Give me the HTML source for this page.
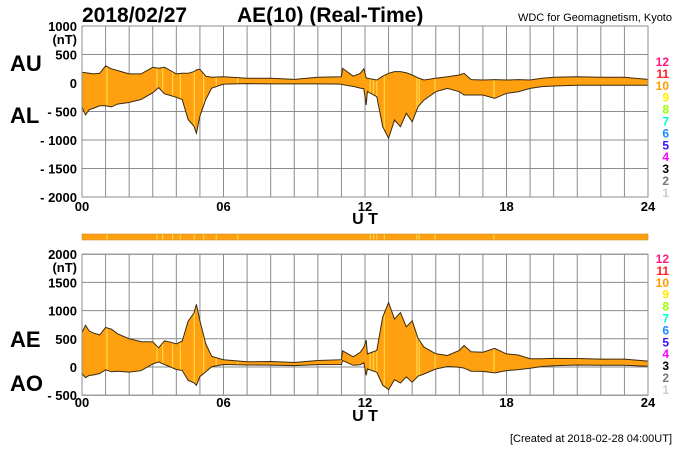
<!DOCTYPE html>
<html><head><meta charset="utf-8"><style>
html,body{margin:0;padding:0;background:#fff}
svg{display:block;font-family:"Liberation Sans",sans-serif;font-weight:bold}
</style></head><body>
<svg id="c" width="700" height="450" viewBox="0 0 700 450">
<text x="82" y="22" font-size="21">2018/02/27</text>
<text x="237" y="22" font-size="21">AE(10) (Real-Time)</text>
<text x="672" y="21" font-size="11" font-weight="normal" text-anchor="end">WDC for Geomagnetism, Kyoto</text>
<text x="10" y="71" font-size="22">AU</text>
<text x="10" y="123" font-size="22">AL</text>
<text x="10" y="347" font-size="22">AE</text>
<text x="10" y="391" font-size="22">AO</text>
<text x="672" y="442" font-size="11" font-weight="normal" text-anchor="end">[Created at 2018-02-28 04:00UT]</text>
<g id="top"></g>
<g id="bot"></g>
<g id="bar"></g>
<g id="leg"></g>
</svg>
<script>
const hours = [0,0.15,0.3,0.5,0.75,1,1.25,1.5,2,2.5,3,3.25,3.5,3.75,4,4.25,4.5,4.75,4.85,5,5.25,5.5,6,7,8,9,10,11,11.05,11.5,11.8,11.95,12.05,12.1,12.5,12.75,13,13.25,13.5,13.75,14,14.25,14.5,15,15.5,16,16.2,16.5,17,17.5,18,18.5,19,19.5,20,21,22,23,24];
const au = [190,180,170,160,170,300,250,220,160,160,275,260,275,220,160,170,170,200,230,240,120,100,110,82,82,64,100,110,257,120,170,250,90,82,53,120,170,200,200,180,140,90,53,82,110,140,170,60,53,60,53,60,53,82,100,111,100,100,64];
const al = [-420,-560,-470,-440,-400,-400,-420,-370,-340,-290,-170,-80,-190,-220,-250,-290,-640,-760,-880,-580,-290,-90,-20,-10,-15,-15,-15,-20,-30,-60,-90,-100,-386,-150,-240,-766,-970,-650,-766,-532,-680,-415,-300,-152,-94,-152,-210,-210,-210,-270,-180,-152,-94,-64,-53,-40,-40,-40,-40];
const stripeHours = [1.06,3.18,3.42,3.84,4.17,4.76,5.16,5.69,6.6,12.22,12.36,12.5,12.82,14.2,14.3,14.97,17.47];
const topTicks = [1000,500,0,-500,-1000,-1500,-2000];
const botTicks = [2000,1500,1000,500,0,-500];
const xTicks = ["00","06","12","18","24"];
const legendLabels = ["12","11","10","9","8","7","6","5","4","3","2","1"];
const legendColors = ["#ff1a80","#ff2020","#ff9900","#ffee00","#99ff00","#00ffcc","#1a8cff","#3311ff","#ff00ff","#000000","#777777","#cccccc"];

const NS="http://www.w3.org/2000/svg";
const X0=82,X1=648;
const xs=h=>X0+(X1-X0)*h/24;
const yTop=v=>83-v*28.5/500;
const yBot=v=>367-v*28.2/500;
function mk(tag,attrs,parent){const e=document.createElementNS(NS,tag);for(const k in attrs)e.setAttribute(k,attrs[k]);parent.appendChild(e);return e;}
function interp(arr,h){for(let i=1;i<hours.length;i++){if(h<=hours[i]){const t=(h-hours[i-1])/(hours[i]-hours[i-1]);return arr[i-1]+(arr[i]-arr[i-1])*t;}}return arr[arr.length-1];}

function panel(g,ys,vmax,vmin,ticks,upper,lower,labY,utY){
  for(let h=0;h<=24;h++){const l=mk('line',{x1:xs(h),x2:xs(h),y1:ys(vmax),y2:ys(vmin),stroke:'#8c8c8c','stroke-width':1},g);
    
    }
  ticks.forEach((t,i)=>{const l=mk('line',{x1:X0,x2:X1,y1:ys(t),y2:ys(t),stroke:'#8c8c8c','stroke-width':1},g);
    
    
    const s=(t<0?'- '+(-t):String(t));
    const tx=mk('text',{x:77,y:ys(t)+5,'font-size':13,'text-anchor':'end'},g);tx.textContent=s;
    
    
    if(i===0){const u=mk('text',{x:77,y:ys(t)+18,'font-size':13,'text-anchor':'end'},g);u.textContent='(nT)';
      
      }
  });
  let d='M'+hours.map((h,i)=>xs(h).toFixed(1)+','+ys(upper[i]).toFixed(1)).join('L');
  for(let i=hours.length-1;i>=0;i--)d+='L'+xs(hours[i]).toFixed(1)+','+ys(lower[i]).toFixed(1);
  const a=mk('path',{d:d+'Z',fill:'#ffa010',stroke:'none'},g);
  
  
  stripeHours.forEach(h=>{const s=mk('line',{x1:xs(h),x2:xs(h),y1:ys(interp(upper,h)),y2:ys(interp(lower,h)),stroke:'#ffd84a','stroke-width':1.2},g);
    
    });
  [upper,lower].forEach((arr,k)=>{const p=mk('path',{d:'M'+hours.map((h,i)=>xs(h).toFixed(1)+','+ys(arr[i]).toFixed(1)).join('L'),fill:'none',stroke:'#3a2a10','stroke-width':1},g);
    
    });
  const b=mk('rect',{x:X0,y:ys(vmax),width:X1-X0,height:ys(vmin)-ys(vmax),fill:'none',stroke:'#8c8c8c'},g);
  
  
  xTicks.forEach((t,i)=>{const tx=mk('text',{x:xs(i*6),y:labY,'font-size':13,'text-anchor':'middle'},g);tx.textContent=t;
    
    });
  const ut=mk('text',{x:xs(12),y:utY,'font-size':16,'text-anchor':'middle'},g);ut.textContent='U T';
  
  
}
const ae=au.map((v,i)=>v-al[i]);
const ao=au.map((v,i)=>(v+al[i])/2);
panel(document.getElementById('top'),yTop,1000,-2000,topTicks,au,al,211,224);
panel(document.getElementById('bot'),yBot,2000,-500,botTicks,ae,ao,407,421);

const bar=document.getElementById('bar');
const br=mk('rect',{x:X0,y:234,width:X1-X0,height:6,fill:'#ffa010',stroke:'#c89030','stroke-width':0.6},bar);


stripeHours.forEach(h=>{const s=mk('line',{x1:xs(h),x2:xs(h),y1:234.5,y2:239.5,stroke:'#ffd84a','stroke-width':1.2},bar);
  
  });

const leg=document.getElementById('leg');
[62,259].forEach(y0=>legendLabels.forEach((t,i)=>{const tx=mk('text',{x:669,y:y0+i*11.9+4,'font-size':12,'text-anchor':'end',fill:legendColors[i]},leg);tx.textContent=t;
  
  }));
</script>
</body></html>
